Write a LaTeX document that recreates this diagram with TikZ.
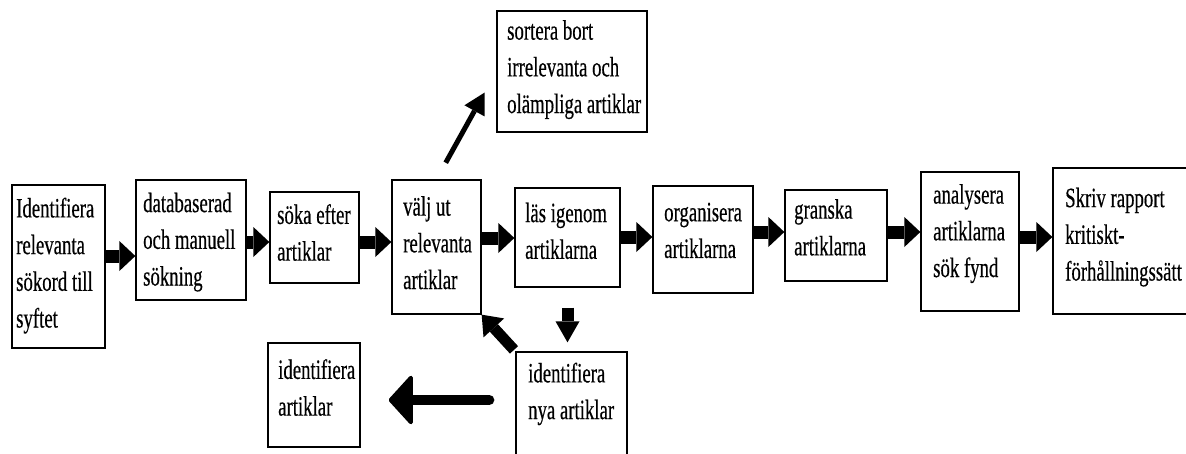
\documentclass[tikz,border=0pt]{standalone}
\usepackage{fontspec}
\setmainfont{Liberation Serif}[FakeStretch=0.67,FakeBold=0.4]
\usetikzlibrary{arrows.meta}
\begin{document}
\begin{tikzpicture}[x=1pt,y=-1pt,
  box/.style={draw=black, line width=1.3pt, rectangle, inner sep=0pt},
  txt/.style={font=\fontsize{28}{36.7}\selectfont, align=left, inner sep=0pt, anchor=north west},
  blk/.style={line width=13pt, -{Triangle[width=30pt,length=16pt,line width=0pt]}},
  blkdown/.style={line width=12pt, -{Triangle[width=24pt,length=21pt,line width=0pt]}},
  blkdiag/.style={line width=11pt, -{Triangle[width=28pt,length=18pt,line width=0pt]}},
  thinarr/.style={line width=5pt, -{Triangle[width=23pt,length=21pt,line width=0pt]}},
  bigarr/.style={line width=10pt, line cap=round, -{Triangle[round,width=54pt,length=25pt,line width=4pt]}}
]
\useasboundingbox (0,0) rectangle (1186,453);
\clip (0,0) rectangle (1186,453);
% boxes
\node[box, minimum width=93pt,  minimum height=163pt] (b1) at (58.5,266.5) {};
\node[box, minimum width=110pt, minimum height=120pt] (b2) at (191,240) {};
\node[box, minimum width=89pt,  minimum height=91pt]  (b3) at (314.5,237.5) {};
\node[box, minimum width=89pt,  minimum height=134pt] (b4) at (436.5,247) {};
\node[box, minimum width=105pt, minimum height=99pt]  (b5) at (567.5,237.5) {};
\node[box, minimum width=100pt, minimum height=107pt] (b6) at (703,239.5) {};
\node[box, minimum width=102pt, minimum height=91pt]  (b7) at (836,235.5) {};
\node[box, minimum width=98pt,  minimum height=139pt] (b8) at (970,241.5) {};
\node[box, minimum width=147pt, minimum height=146pt] (b9) at (1126.5,241) {};
\node[box, minimum width=150pt, minimum height=121pt] (bs) at (572,71.5) {};
\node[box, minimum width=111pt, minimum height=118pt] (bn) at (571.5,411) {};
\node[box, minimum width=92pt,  minimum height=104pt] (bi) at (314,395) {};
% texts
\node[txt] (t1) at (16,197.5) {Identifiera\\relevanta\\sökord till\\syftet};
\node[txt] (t2) at (143,192.5) {databaserad\\och manuell\\sökning};
\node[txt] (t3) at (277,204) {söka efter\\artiklar};
\node[txt] (t4) at (403,196) {välj ut\\relevanta\\artiklar};
\node[txt] (t5) at (525,202.5) {läs igenom\\artiklarna};
\node[txt] (t6) at (664,202.5) {organisera\\artiklarna};
\node[txt] (t7) at (794,199) {granska\\artiklarna};
\node[txt] (t8) at (933,184) {analysera\\artiklarna\\sök fynd};
\node[txt] (t9) at (1065,187.5) {Skriv rapport\\kritiskt-\\förhållningssätt};
\node[txt] (ts) at (507,20) {sortera bort\\irrelevanta och\\olämpliga artiklar};
\node[txt] (tn) at (528,362.5) {identifiera\\nya artiklar};
\node[txt] (ti) at (278,359) {identifiera\\artiklar};
% block arrows along the main row
\draw[blk] (b1.east |- 0,256) -- (b2.west |- 0,256);
\draw[blk] (b2.east |- 0,242) -- (b3.west |- 0,242);
\draw[blk] (b3.east |- 0,242) -- (b4.west |- 0,242);
\draw[blk] (b4.east |- 0,238) -- (b5.west |- 0,238);
\draw[blk] (b5.east |- 0,237) -- (b6.west |- 0,237);
\draw[blk] (b6.east |- 0,232) -- (b7.west |- 0,232);
\draw[blk] (b7.east |- 0,232) -- (b8.west |- 0,232);
\draw[blk] (b8.east |- 0,237) -- (b9.west |- 0,237);
% other arrows
\draw[thinarr, shorten <=19pt, shorten >=24pt] (b4.north) -- (bs.west);
\draw[blkdown, shorten <=20pt, shorten >=9pt] (b5.south) -- (b5.south |- bn.north);
\draw[blkdiag, shorten <=2pt] (bn.north west) -- (b4.south east);
\draw[bigarr, shorten <=26pt, shorten >=28pt] (bn.west |- 0,400) -- (bi.east |- 0,400);
\end{tikzpicture}
\end{document}
